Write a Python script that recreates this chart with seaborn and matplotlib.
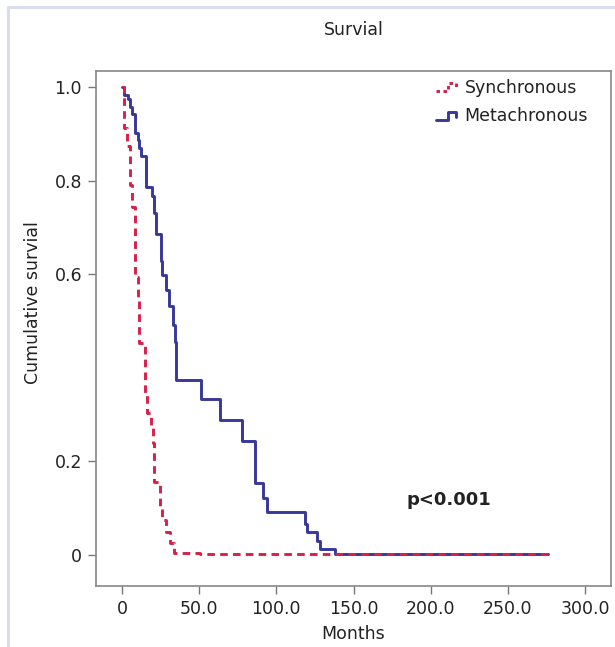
import numpy as np
import pandas as pd
import matplotlib
matplotlib.use("Agg")
import matplotlib.pyplot as plt
import seaborn as sns
from matplotlib.lines import Line2D
from matplotlib.legend_handler import HandlerBase

# Kaplan-Meier steps (months, survival after the step)
sync_months = [0, 1.3, 3.2, 5.2, 6.7, 8.2, 10.2, 11.2, 15.1, 16.0, 19.0, 19.8,
               20.9, 24.6, 26.1, 28.5, 31.1, 33.7, 50.5, 276]
sync_surv = [1.0, 0.912, 0.874, 0.79, 0.743, 0.595, 0.545, 0.452, 0.342, 0.303,
             0.271, 0.24, 0.156, 0.103, 0.075, 0.050, 0.025, 0.004, 0.0015, 0.0015]

meta_months = [0, 1.3, 4.1, 5.2, 6.3, 8.2, 10.6, 11.2, 12.1, 15.7, 19.6, 20.5,
               22.0, 25.1, 26.0, 28.5, 30.4, 33.2, 34.3, 34.8, 51.0, 63.4, 77.7,
               85.9, 91.5, 93.7, 118.5, 119.6, 126.1, 128.4, 138.0, 276]
meta_surv = [1.0, 0.983, 0.974, 0.957, 0.943, 0.901, 0.887, 0.869, 0.853, 0.786,
             0.768, 0.731, 0.686, 0.629, 0.598, 0.566, 0.531, 0.491, 0.456, 0.374,
             0.334, 0.288, 0.244, 0.155, 0.121, 0.092, 0.066, 0.049, 0.030, 0.013,
             0.003, 0.003]

xticks = [0, 50, 100, 150, 200, 250, 300]
xtick_labels = ["0", "50.0", "100.0", "150.0", "200.0", "250.0", "300.0"]
yticks = [0, 0.2, 0.6, 0.8, 1.0]
ytick_labels = ["0", "0.2", "0.6", "0.8", "1.0"]

red = "#d8204a"
blue = "#38379a"


class StepHandler(HandlerBase):
    # legend glyph drawn as a little step, like in SPSS output
    def create_artists(self, legend, orig_handle, xdescent, ydescent,
                       width, height, fontsize, trans):
        x0 = -xdescent
        xs = np.array([0, 0.5, 0.5, 0.85, 0.85]) * width + x0
        ys = np.array([0.1, 0.1, 0.8, 0.8, 0.4]) * height - ydescent
        line = Line2D(xs, ys, color=orig_handle.get_color(),
                      linestyle=orig_handle.get_linestyle(),
                      linewidth=orig_handle.get_linewidth())
        if orig_handle.get_linestyle() != "-":
            line.set_dashes((1.2, 1.2))
        line.set_transform(trans)
        return [line]


sns.set_style("white")
plt.rcParams["font.family"] = ["DejaVu Sans"]

fig = plt.figure(figsize=(6.15, 6.47), dpi=100)
# light frame of the original page (top and left edges)
fig.add_artist(Line2D([8 / 615, 8 / 615], [0, 1 - 7 / 647],
                      transform=fig.transFigure, color="#dcdcf0", linewidth=2.2))
fig.add_artist(Line2D([8 / 615, 1], [1 - 7 / 647, 1 - 7 / 647],
                      transform=fig.transFigure, color="#dcdcf0", linewidth=2.2))
ax = fig.add_axes([96 / 615, 61 / 647, 515 / 615, 515 / 647])

sync_df = pd.DataFrame({"Months": sync_months, "surv": sync_surv})
meta_df = pd.DataFrame({"Months": meta_months, "surv": meta_surv})

sns.lineplot(data=meta_df, x="Months", y="surv", estimator=None, sort=False,
             drawstyle="steps-post", color=blue, linewidth=2.1, ax=ax)
sns.lineplot(data=sync_df, x="Months", y="surv", estimator=None, sort=False,
             drawstyle="steps-post", color=red, linewidth=2.1,
             dashes=False, ax=ax)
ax.lines[-1].set_dashes((2.6, 1.8))

ax.set_xlim(-16.8, 316.7)
ax.set_ylim(-0.066, 1.034)
ax.set_xticks(xticks)
ax.set_xticklabels(xtick_labels)
ax.set_yticks(yticks)
ax.set_yticklabels(ytick_labels)
ax.tick_params(axis="both", direction="out", length=6, width=1,
               color="#777777", labelsize=12.5, labelcolor="#222222", pad=4)
ax.tick_params(axis="x", bottom=True)
ax.tick_params(axis="y", left=True)
for sp in ax.spines.values():
    sp.set_color("#888888")
    sp.set_linewidth(1.2)

ax.set_title("Survial", fontsize=12.5, color="#222222", pad=26)
ax.set_xlabel("Months", fontsize=12.5, color="#222222")
ax.set_ylabel("Cumulative survial", fontsize=12.5, color="#222222")
ax.xaxis.set_label_coords(0.5, -0.075)
ax.yaxis.set_label_coords(-0.105, 0.55)

ax.text(212, 0.118, "p<0.001", fontsize=13, fontweight="bold",
        color="#222222", ha="center", va="center")

h_sync = Line2D([], [], color=red, linewidth=2.1, linestyle="--")
h_meta = Line2D([], [], color=blue, linewidth=2.1, linestyle="-")
ax.legend([h_sync, h_meta], ["Synchronous", "Metachronous"],
          handler_map={Line2D: StepHandler()}, loc="upper left",
          bbox_to_anchor=(0.643, 1.002), frameon=False, fontsize=12.5,
          handlelength=1.4, handletextpad=0.25, borderpad=0,
          labelspacing=0.62, labelcolor="#222222")

fig.savefig("out.png", dpi=100)
